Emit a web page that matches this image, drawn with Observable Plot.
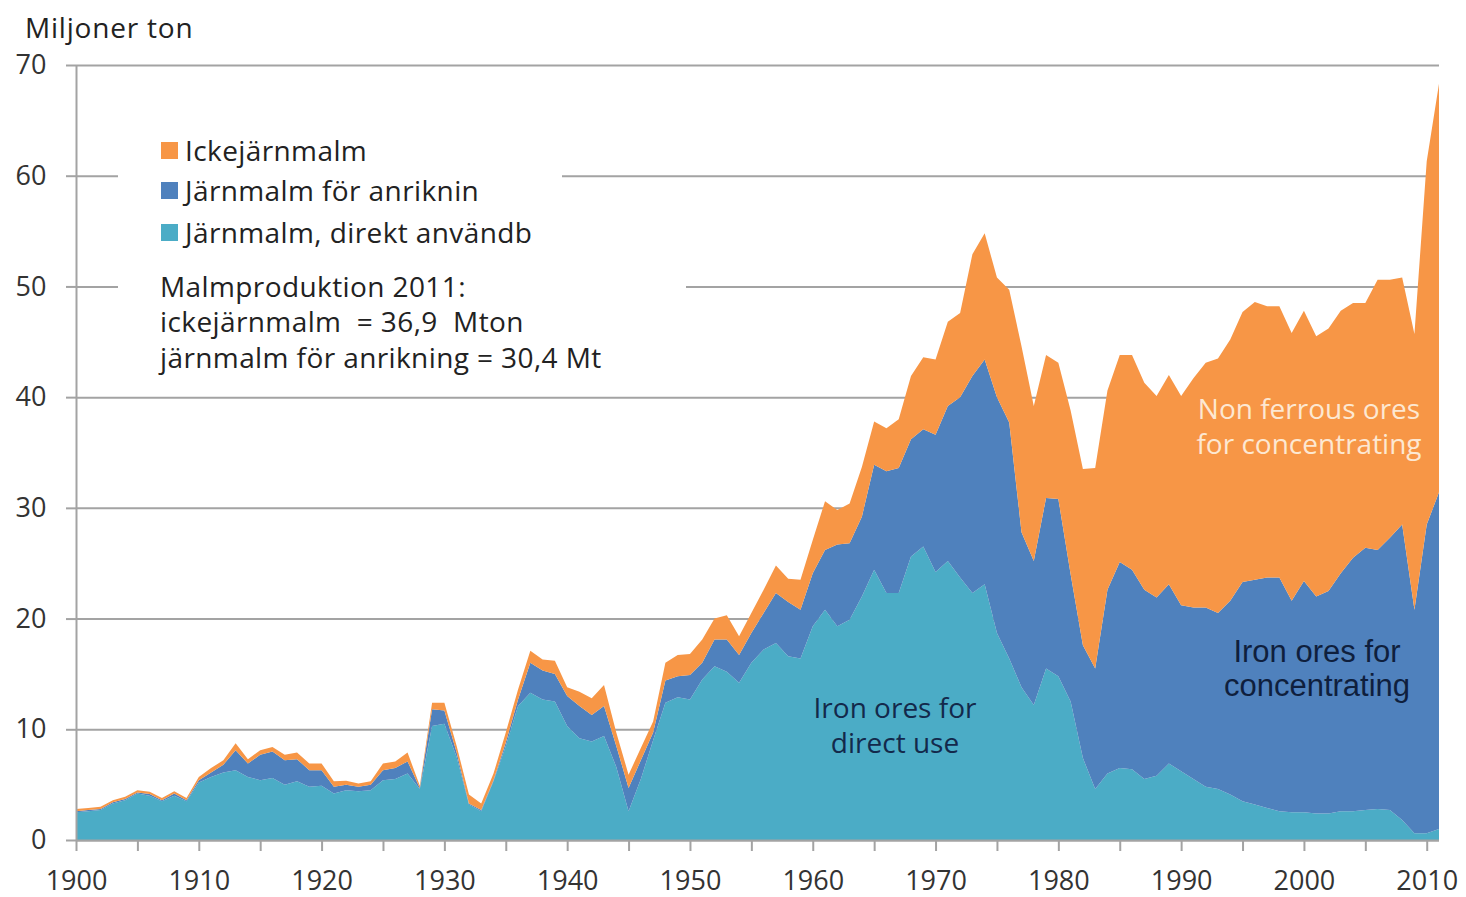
<!DOCTYPE html>
<html>
<head>
<meta charset="utf-8">
<script src="https://cdn.jsdelivr.net/npm/d3@7"></script>
<script src="https://cdn.jsdelivr.net/npm/@observablehq/plot@0.6"></script>
<style>
  body { margin: 0; background: #fff; }
  #wrap { position: relative; width: 1466px; height: 897px; font-family: "Open Sans", sans-serif; }
  #wrap svg { position: absolute; left: 0; top: 0; }
  .ov { position: absolute; white-space: nowrap; }
</style>
</head>
<body>
<div id="wrap"></div>
<script>
// ---- data (million tonnes) ----
const years = d3.range(1900, 2012);
const directUse = [
  2.5,2.6,2.7,3.3,3.6,4.2,4.0,3.5,4.0,3.5,
  5.2,5.7,6.1,6.3,5.7,5.4,5.6,5.0,5.3,4.8,
  4.9,4.2,4.5,4.4,4.5,5.4,5.5,6.0,4.6,10.3,
  10.5,7.5,3.2,2.6,5.3,8.5,12.1,13.3,12.7,12.5,
  10.3,9.2,8.9,9.4,6.6,2.6,5.5,9.0,12.4,12.9,
  12.7,14.5,15.7,15.2,14.2,16.0,17.2,17.8,16.6,16.4,
  19.3,20.8,19.3,19.9,22.0,24.4,22.3,22.3,25.6,26.5,
  24.2,25.2,23.7,22.3,23.1,18.7,16.4,13.8,12.2,15.5,
  14.8,12.5,7.4,4.6,6.0,6.5,6.4,5.5,5.8,6.9,
  6.2,5.5,4.8,4.6,4.1,3.5,3.2,2.9,2.6,2.5,
  2.5,2.4,2.4,2.6,2.6,2.7,2.8,2.7,1.8,0.6,
  0.6,1.0
];
const ironConcentrating = [
  0.1,0.1,0.1,0.1,0.1,0.1,0.15,0.1,0.2,0.1,
  0.2,0.4,0.7,1.8,1.2,2.3,2.4,2.2,2.0,1.5,
  1.4,0.6,0.5,0.4,0.5,0.9,1.0,1.1,0.1,1.5,
  1.2,0.4,0.1,0.1,0.1,0.3,0.6,2.7,2.6,2.5,
  2.7,2.9,2.4,2.7,1.9,2.1,1.7,0.7,2.0,1.9,
  2.2,1.5,2.4,2.9,2.5,2.7,3.3,4.5,4.9,4.4,
  4.8,5.4,7.4,6.9,7.2,9.5,11.0,11.3,10.6,10.6,
  12.4,14.0,16.3,19.6,20.3,21.3,21.3,14.0,13.0,15.4,
  16.0,11.5,10.2,10.9,16.6,18.6,18.0,17.1,16.1,16.2,
  15.0,15.5,16.2,15.9,17.5,19.8,20.3,20.8,21.1,19.1,
  20.9,19.6,20.1,21.5,22.9,23.7,23.4,24.6,26.7,20.2,
  27.9,30.4
];
const nonFerrous = [
  0.2,0.2,0.2,0.2,0.2,0.2,0.2,0.2,0.2,0.2,
  0.3,0.4,0.4,0.65,0.4,0.4,0.4,0.5,0.6,0.6,
  0.6,0.5,0.35,0.3,0.3,0.6,0.6,0.8,0.2,0.6,
  0.7,0.6,0.8,0.6,0.6,0.9,0.9,1.1,1.0,1.2,
  0.8,1.3,1.5,1.9,1.2,1.2,1.1,1.0,1.6,1.9,
  1.9,2.1,1.9,2.2,1.7,1.8,2.1,2.5,2.1,2.7,
  3.0,4.4,3.1,3.6,4.5,3.9,3.9,4.4,5.7,6.5,
  6.8,7.6,7.6,11.0,11.4,10.8,12.0,16.8,14.0,12.9,
  12.3,14.8,15.9,18.1,18.0,18.7,19.4,18.7,18.2,18.9,
  18.9,20.7,22.1,23.0,23.6,24.4,25.1,24.5,24.5,24.2,
  24.4,23.5,23.7,23.7,23.0,22.1,24.4,23.3,22.3,24.9,
  32.8,36.9
];
const seriesNames = ["Järnmalm, direkt användbar", "Järnmalm för anrikning", "Ickejärnmalm"];
const seriesColors = ["#4bacc6", "#4f81bd", "#f79646"];
// legend labels as they appear (truncated) in the original
const legendLabels = ["Ickejärnmalm", "Järnmalm för anriknin", "Järnmalm, direkt användb"];
const yTicks = [0, 10, 20, 30, 40, 50, 60, 70];
const xTicks = d3.range(1900, 2011, 5);

// long table for the stacked areas
const seriesValues = [directUse, ironConcentrating, nonFerrous];
const table = [];
seriesNames.forEach((name, i) => {
  years.forEach((yr, j) => table.push({year: yr, series: name, value: seriesValues[i][j]}));
});

const grid = "#a3a3a3";
const chart = Plot.plot({
  width: 1466,
  height: 897,
  marginLeft: 76,
  marginRight: 27,
  marginTop: 65,
  marginBottom: 57,
  style: {fontFamily: "Open Sans", fontSize: "27px", color: "#333", background: "white", overflow: "visible"},
  x: {domain: [1900, 2011]},
  y: {domain: [0, 70]},
  color: {domain: seriesNames, range: seriesColors},
  marks: [
    Plot.gridY(yTicks, {stroke: grid, strokeOpacity: 1, strokeWidth: 2}),
    Plot.areaY(table, {x: "year", y: "value", fill: "series", order: seriesNames, curve: "linear"}),
    Plot.ruleX([1900], {stroke: grid, strokeWidth: 2}),
    Plot.ruleY([0], {stroke: grid, strokeWidth: 2}),
    Plot.axisY({ticks: yTicks, tickSize: 10, tickPadding: 20, stroke: grid, strokeWidth: 2, fill: "#333", label: null}),
    Plot.axisX({ticks: xTicks, tickSize: 11, tickPadding: 19, stroke: grid, strokeWidth: 2, fill: "#333", label: null,
      tickFormat: d => d % 10 === 0 ? String(d) : ""})
  ]
});
const wrap = document.getElementById("wrap");
wrap.appendChild(chart);

function add(html, style) {
  const d = document.createElement("div");
  d.className = "ov";
  Object.assign(d.style, style);
  d.innerHTML = html;
  wrap.appendChild(d);
  return d;
}
// axis title
add("Miljoner ton", {left: "25px", top: "8px", fontSize: "28px", lineHeight: "38px", color: "#222", letterSpacing: "0.8px"});

// white boxes behind legend and note
add("", {left: "118px", top: "128px", width: "444px", height: "128px", background: "#fff"});
add("", {left: "118px", top: "262px", width: "568px", height: "118px", background: "#fff"});

// legend
const legendY = [150, 190, 232];
const legendColors = [seriesColors[2], seriesColors[1], seriesColors[0]];
legendLabels.forEach((t, i) => {
  add("", {left: "161px", top: (legendY[i] - 8) + "px", width: "17px", height: "17px", background: legendColors[i]});
  add(t, {left: "185px", top: (legendY[i] - 19) + "px", fontSize: "28px", lineHeight: "38px", color: "#222", letterSpacing: "0.4px"});
});

// note
const noteLines = ["Malmproduktion 2011:", "ickejärnmalm&nbsp; = 36,9&nbsp; Mton", "järnmalm för anrikning = 30,4 Mt"];
const noteY = [286, 321, 357];
noteLines.forEach((t, i) => {
  add(t, {left: "160px", top: (noteY[i] - 19) + "px", fontSize: "28px", lineHeight: "38px", color: "#222", letterSpacing: "0.4px"});
});

// area labels
add("Iron ores for<br>direct use", {left: "745px", width: "300px", top: "690px", textAlign: "center", fontSize: "28px", lineHeight: "35px", color: "#13294b"});
add("Non ferrous ores<br>for concentrating", {left: "1159px", width: "300px", top: "391px", textAlign: "center", fontSize: "28px", lineHeight: "35px", color: "#fde8d2"});
add("Iron ores for<br>concentrating", {left: "1167px", width: "300px", top: "635px", textAlign: "center", fontFamily: "'Liberation Sans', Arial, sans-serif", fontSize: "31px", lineHeight: "34px", color: "#0f1f3d"});
</script>
</body>
</html>
